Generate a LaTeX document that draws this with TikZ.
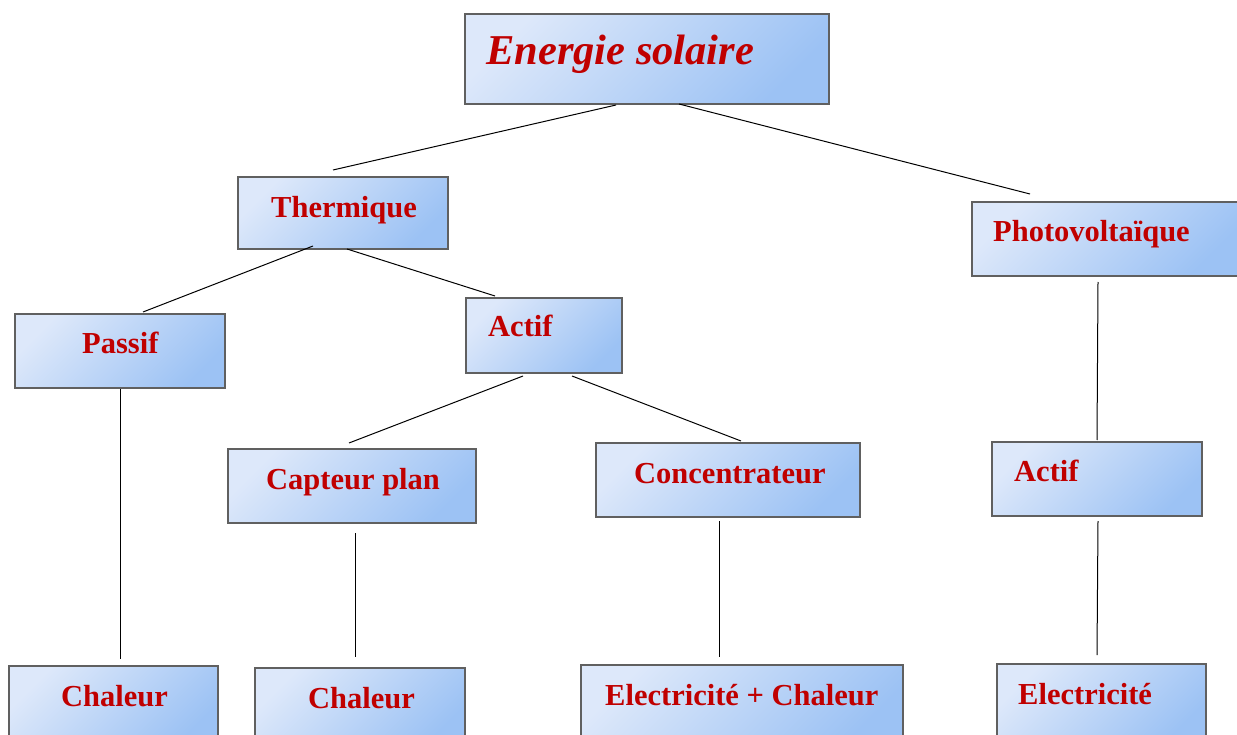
\documentclass[tikz,border=0pt]{standalone}
\usepackage{fontspec}
\setmainfont{Liberation Serif}
\definecolor{boxlight}{HTML}{DDE8FA}
\definecolor{boxdark}{HTML}{9CC2F4}
\definecolor{boxedge}{HTML}{606060}
\definecolor{txtred}{HTML}{C00000}
\tikzset{
  box/.style={rectangle, draw=boxedge, line width=2.4pt, inner sep=0pt, outer sep=0pt,
    top color=boxlight, bottom color=boxdark, shading angle=45, anchor=north west},
  lbl/.style={anchor=base west, inner sep=0pt, text=txtred, font=\fontsize{30.5}{34}\selectfont\bfseries},
  conn/.style={draw=black, line width=1pt}
}
\begin{document}
\begin{tikzpicture}[x=1pt,y=-1pt]
\useasboundingbox (0,0) rectangle (1237,735);
\clip (0,0) rectangle (1237,735);
% boxes
\node[box, minimum width=364pt, minimum height=90pt] (energie) at (465,14) {};
\node[box, minimum width=210pt, minimum height=72pt] (thermique) at (238,177) {};
\node[box, minimum width=268pt, minimum height=74pt] (photo) at (972,202) {};
\node[box, minimum width=210pt, minimum height=74pt] (passif) at (15,314) {};
\node[box, minimum width=156pt, minimum height=75pt] (actifT) at (466,298) {};
\node[box, minimum width=248pt, minimum height=74pt] (capteur) at (228,449) {};
\node[box, minimum width=264pt, minimum height=74pt] (concentr) at (596,443) {};
\node[box, minimum width=210pt, minimum height=74pt] (actifP) at (992,442) {};
\node[box, minimum width=209pt, minimum height=80pt] (chaleurA) at (9,666) {};
\node[box, minimum width=210pt, minimum height=80pt] (chaleurB) at (255,668) {};
\node[box, minimum width=322pt, minimum height=80pt] (elecchal) at (581,665) {};
\node[box, minimum width=209pt, minimum height=80pt] (elec) at (997,664) {};
% labels
\node[lbl, font=\fontsize{42.5}{48}\selectfont\bfseries\itshape] (tEnergie) at (486,65) {Energie solaire};
\node[lbl] (tThermique) at (271,218) {Thermique};
\node[lbl] (tPhoto) at (993,242) {Photovoltaïque};
\node[lbl] (tPassif) at (82,353) {Passif};
\node[lbl] (tActifT) at (488,337) {Actif};
\node[lbl] (tCapteur) at (266,489) {Capteur plan};
\node[lbl] (tConcentr) at (634,483) {Concentrateur};
\node[lbl] (tActifP) at (1014,481) {Actif};
\node[lbl] (tChaleurA) at (61,706) {Chaleur};
\node[lbl] (tChaleurB) at (308,708) {Chaleur};
\node[lbl] (tElecChal) at (605,705) {Electricité + Chaleur};
\node[lbl] (tElec) at (1018,704) {Electricité};
% connector end points
\coordinate (e1) at (616,105); \coordinate (th1) at (333,170);
\coordinate (e2) at (679,104); \coordinate (ph1) at (1030,194);
\coordinate (th2) at (313,246); \coordinate (pa1) at (143,312);
\coordinate (th3) at (347,249); \coordinate (at1) at (495,296);
\coordinate (at2) at (523,376); \coordinate (ca1) at (349,443);
\coordinate (at3) at (572,376); \coordinate (co1) at (741,441);
\coordinate (pa2) at (120,389); \coordinate (chA) at (120,659);
\coordinate (ca2) at (355,533); \coordinate (chB) at (355,657);
\coordinate (co2) at (719,521); \coordinate (ec1) at (719,657);
\coordinate (ph2) at (1098,282); \coordinate (ap1) at (1097,440);
\coordinate (ap2) at (1098,521); \coordinate (el1) at (1097,655);
\draw[conn] (e1) -- (th1);
\draw[conn] (e2) -- (ph1);
\draw[conn] (th2) -- (pa1);
\draw[conn] (th3) -- (at1);
\draw[conn] (at2) -- (ca1);
\draw[conn] (at3) -- (co1);
\draw[conn] (pa2) -- (chA);
\draw[conn] (ca2) -- (chB);
\draw[conn] (co2) -- (ec1);
\draw[conn] (ph2) -- (ap1);
\draw[conn] (ap2) -- (el1);
\end{tikzpicture}
\end{document}
